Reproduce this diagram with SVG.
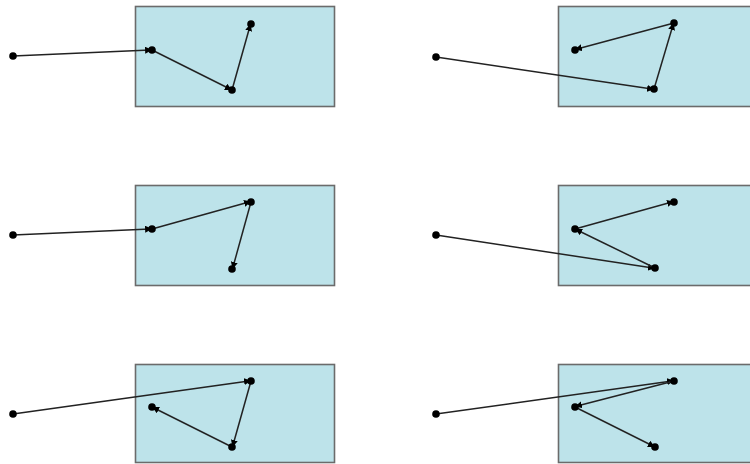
<svg xmlns="http://www.w3.org/2000/svg" width="750" height="464" viewBox="0 0 750 464">
<style>
.box{fill:#bde3ea;stroke:#6b6b6b;stroke-width:1.6}
.dot{fill:#000}
.edge{stroke:#222;stroke-width:1.5;fill:none;marker-end:url(#ah)}
</style>
<defs>
<marker id="ah" viewBox="0 0 10 10" refX="7" refY="5" markerWidth="7" markerHeight="7" markerUnits="userSpaceOnUse" orient="auto">
<path d="M0,0 L10,5 L0,10 z" fill="#000"/>
</marker>
</defs>
<rect width="750" height="464" fill="#fff"/>
<g id="panel1">
<rect class="box" x="135.5" y="6.5" width="199" height="100"/>
</g>
<g id="panel2">
<rect class="box" x="558.5" y="6.5" width="199" height="100"/>
</g>
<g id="panel3">
<rect class="box" x="135.5" y="185.5" width="199" height="100"/>
</g>
<g id="panel4">
<rect class="box" x="558.5" y="185.5" width="199" height="100"/>
</g>
<g id="panel5">
<rect class="box" x="135.5" y="364.5" width="199" height="98"/>
</g>
<g id="panel6">
<rect class="box" x="558.5" y="364.5" width="199" height="98"/>
</g>
<g id="connectors">
<line class="edge" x1="13" y1="56" x2="150" y2="50"/>
<line class="edge" x1="152" y1="50" x2="230" y2="89"/>
<line class="edge" x1="232" y1="90" x2="250" y2="26"/>

<line class="edge" x1="436" y1="57" x2="652" y2="89"/>
<line class="edge" x1="654" y1="89" x2="673" y2="25"/>
<line class="edge" x1="674" y1="23" x2="577" y2="49"/>

<line class="edge" x1="13" y1="235" x2="150" y2="229"/>
<line class="edge" x1="152" y1="229" x2="249" y2="202"/>
<line class="edge" x1="251" y1="202" x2="233" y2="267"/>

<line class="edge" x1="436" y1="235" x2="653" y2="268"/>
<line class="edge" x1="655" y1="268" x2="577" y2="230"/>
<line class="edge" x1="575" y1="229" x2="672" y2="202"/>

<line class="edge" x1="13" y1="414" x2="249" y2="381"/>
<line class="edge" x1="251" y1="381" x2="233" y2="445"/>
<line class="edge" x1="232" y1="447" x2="154" y2="408"/>

<line class="edge" x1="436" y1="414" x2="672" y2="381"/>
<line class="edge" x1="674" y1="381" x2="577" y2="406"/>
<line class="edge" x1="575" y1="407" x2="653" y2="446"/>
</g>
<g id="dots">
<circle class="dot" cx="13" cy="56" r="3.8"/>
<circle class="dot" cx="152" cy="50" r="3.8"/>
<circle class="dot" cx="232" cy="90" r="3.8"/>
<circle class="dot" cx="251" cy="24" r="3.8"/>

<circle class="dot" cx="436" cy="57" r="3.8"/>
<circle class="dot" cx="654" cy="89" r="3.8"/>
<circle class="dot" cx="674" cy="23" r="3.8"/>
<circle class="dot" cx="575" cy="50" r="3.8"/>

<circle class="dot" cx="13" cy="235" r="3.8"/>
<circle class="dot" cx="152" cy="229" r="3.8"/>
<circle class="dot" cx="251" cy="202" r="3.8"/>
<circle class="dot" cx="232" cy="269" r="3.8"/>

<circle class="dot" cx="436" cy="235" r="3.8"/>
<circle class="dot" cx="655" cy="268" r="3.8"/>
<circle class="dot" cx="575" cy="229" r="3.8"/>
<circle class="dot" cx="674" cy="202" r="3.8"/>

<circle class="dot" cx="13" cy="414" r="3.8"/>
<circle class="dot" cx="251" cy="381" r="3.8"/>
<circle class="dot" cx="232" cy="447" r="3.8"/>
<circle class="dot" cx="152" cy="407" r="3.8"/>

<circle class="dot" cx="436" cy="414" r="3.8"/>
<circle class="dot" cx="674" cy="381" r="3.8"/>
<circle class="dot" cx="575" cy="407" r="3.8"/>
<circle class="dot" cx="655" cy="447" r="3.8"/>
</g>
</svg>
